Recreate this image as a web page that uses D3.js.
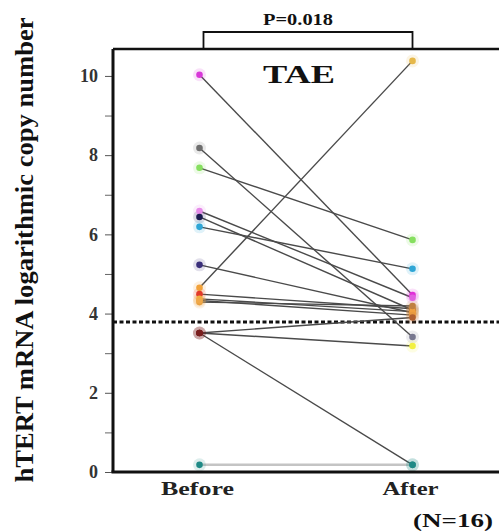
<!DOCTYPE html>
<html>
<head>
<meta charset="utf-8">
<script src="https://cdn.jsdelivr.net/npm/d3@7"></script>
<style>
  html, body { margin: 0; padding: 0; background: #fff; }
  svg { display: block; }
  text { font-family: "Liberation Serif", "DejaVu Serif", serif; font-weight: bold; fill: #111; }
</style>
</head>
<body>
<svg id="chart" width="499" height="532"></svg>
<script>
// ---- data ----
const categories = ["Before", "After"];
const beforeValues = [10.03, 8.18, 7.68, 6.59, 6.44, 6.19, 5.23, 4.65, 4.49, 4.37, 4.29, 4.33, 3.51, 3.51, 3.51, 0.18];
const afterValues  = [4.47, 3.41, 5.86, 4.40, 4.09, 5.13, 4.02, 10.38, 4.12, 4.05, 4.19, 3.96, 3.18, 3.90, 0.18, 0.18];
const beforeColors = ["#d838d8", "#6e6e6e", "#86df5f", "#e58ae8", "#1c1c50", "#2fa6d6", "#3a2f7a", "#f2a23a",
                      "#e23a2a", "#f0b040", "#e8a040", "#f0a848", "#7a1e1e", "#7a1e1e", "#7a1e1e", "#1f8a86"];
const afterColors  = ["#e030d8", "#77778f", "#86df5f", "#e060e0", "#2a2a4a", "#2fa6d6", "#e79a3a", "#e6b84a",
                      "#e8963a", "#f0a040", "#c08040", "#e89a40", "#f2f040", "#b06030", "#1f8a86", "#1f8a86"];
const yTickValues = [0, 2, 4, 6, 8, 10];
const yMinorTicks = [1, 3, 5, 7, 9];
const cutoffValue = 3.79;
const pLabel = "P=0.018";
const groupLabel = "TAE";
const nLabel = "(N=16)";
const yTitle = "hTERT mRNA logarithmic copy number";

const patients = beforeValues.map((b, i) => ({
  before: b, after: afterValues[i], cb: beforeColors[i], ca: afterColors[i]
}));

// ---- layout ----
const svg = d3.select("#chart");
const mLeft = 113, mRight = 499, mTop = 49, mBottom = 472;

const x = d3.scalePoint().domain(categories).range([mLeft, mRight]).padding(0.406);
const y = d3.scaleLinear().domain([0, 10.68]).range([mBottom, mTop]);

// frame top
svg.append("line").attr("x1", mLeft).attr("x2", mRight).attr("y1", mTop).attr("y2", mTop)
  .attr("stroke", "#111").attr("stroke-width", 2.5);

// cutoff dashed line
svg.append("line").attr("x1", mLeft).attr("x2", mRight)
  .attr("y1", y(cutoffValue)).attr("y2", y(cutoffValue))
  .attr("stroke", "#111").attr("stroke-width", 3).attr("stroke-dasharray", "4,2.5");

// connecting lines
svg.append("g").selectAll("line").data(patients).join("line")
  .attr("x1", x("Before")).attr("x2", x("After"))
  .attr("y1", d => y(d.before)).attr("y2", d => y(d.after))
  .attr("stroke", d => d.before < 1 ? "#c4c4c4" : "#4a4a4a")
  .attr("stroke-width", d => d.before < 1 ? 2.5 : 1.4);

// points with soft halo
const pts = [];
patients.forEach(d => {
  pts.push({ cat: "Before", v: d.before, c: d.cb });
  pts.push({ cat: "After", v: d.after, c: d.ca });
});
svg.append("g").selectAll("circle").data(pts).join("circle")
  .attr("cx", d => x(d.cat)).attr("cy", d => y(d.v)).attr("r", 6.5)
  .attr("fill", d => d.c).attr("opacity", 0.15);
svg.append("g").selectAll("circle").data(pts).join("circle")
  .attr("cx", d => x(d.cat)).attr("cy", d => y(d.v)).attr("r", 3.3)
  .attr("fill", d => d.c);

// y axis
const yAxis = d3.axisLeft(y).tickValues(yTickValues).tickSize(8).tickPadding(7).tickFormat(d3.format("d"));
const gy = svg.append("g").attr("transform", `translate(${mLeft},0)`).call(yAxis);
gy.select(".domain").remove();
gy.selectAll(".tick line").attr("stroke", "#555").attr("stroke-width", 1);
gy.selectAll(".tick text").style("font-size", "18px")
  .style("font-family", "'Liberation Serif', serif").style("font-weight", "bold").style("fill", "#333");
const yMinor = d3.axisLeft(y).tickValues(yMinorTicks).tickSize(8).tickFormat("");
const gm = svg.append("g").attr("transform", `translate(${mLeft},0)`).call(yMinor);
gm.select(".domain").remove();
gm.selectAll(".tick line").attr("stroke", "#666").attr("stroke-width", 1);

// axis lines (left and bottom)
svg.append("line").attr("x1", mLeft).attr("x2", mLeft).attr("y1", mTop).attr("y2", mBottom)
  .attr("stroke", "#111").attr("stroke-width", 3);
svg.append("line").attr("x1", mLeft - 1.5).attr("x2", mRight).attr("y1", mBottom).attr("y2", mBottom)
  .attr("stroke", "#111").attr("stroke-width", 3);

// x labels
svg.append("g").selectAll("text").data(categories).join("text")
  .attr("x", d => x(d) - 2).attr("y", 495).attr("text-anchor", "middle")
  .attr("font-size", 19).style("fill", "#222")
  .attr("textLength", d => d === "Before" ? 73 : 56).attr("lengthAdjust", "spacingAndGlyphs")
  .text(d => d);

// N label
svg.append("text").attr("x", 453).attr("y", 527).attr("text-anchor", "middle")
  .attr("font-size", 19).attr("textLength", 80).attr("lengthAdjust", "spacingAndGlyphs")
  .text(nLabel);

// group label
svg.append("text").attr("x", 299).attr("y", 83).attr("text-anchor", "middle")
  .attr("font-size", 26).attr("textLength", 72).attr("lengthAdjust", "spacingAndGlyphs")
  .text(groupLabel);

// significance bracket
const bx1 = x("Before") + 4, bx2 = x("After"), by = 32;
svg.append("path")
  .attr("d", `M${bx1},${mTop}V${by}H${bx2}V${mTop}`)
  .attr("fill", "none").attr("stroke", "#111").attr("stroke-width", 1.8);
svg.append("text").attr("x", 298).attr("y", 25).attr("text-anchor", "middle")
  .attr("font-size", 17).attr("textLength", 70).attr("lengthAdjust", "spacingAndGlyphs")
  .text(pLabel);

// y title
svg.append("text")
  .attr("transform", "translate(33,250) rotate(-90)")
  .attr("text-anchor", "middle")
  .attr("font-size", 25).attr("textLength", 465).attr("lengthAdjust", "spacingAndGlyphs")
  .text(yTitle);
</script>
</body>
</html>
